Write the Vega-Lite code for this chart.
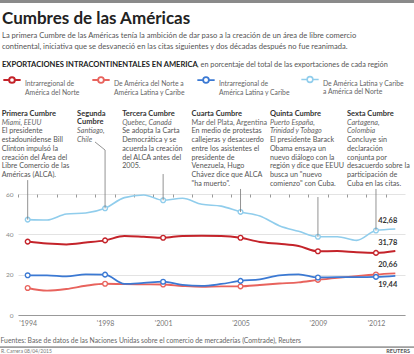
{
  "$schema": "https://vega.github.io/schema/vega-lite/v6.json",
  "width": 387,
  "height": 121,
  "autosize": {"type": "none"},
  "padding": {"left": 18, "top": 194, "right": 9, "bottom": 39},
  "background": "white",
  "config": {
    "view": {"stroke": null},
    "font": "Lato",
    "locale": {"number": {"decimal": ",", "thousands": ".", "grouping": [3], "currency": ["", " €"]}}
  },
  "title": {
    "text": "Cumbres de las Américas",
    "anchor": "start",
    "frame": "group",
    "dx": -16,
    "offset": -28,
    "font": "Lato",
    "fontSize": 17,
    "fontWeight": "bold",
    "color": "#222222"
  },
  "datasets": {
    "exportaciones": [
      {"anio": 1994, "an": 36.4, "nl": 13.4, "ll": 19.7, "ln": 47.3},
      {"anio": 1995, "an": 35.4, "nl": 12.1, "ll": 19.7, "ln": 47.1},
      {"anio": 1996, "an": 35.0, "nl": 12.9, "ll": 19.2, "ln": 50.1},
      {"anio": 1997, "an": 35.9, "nl": 14.5, "ll": 20.2, "ln": 50.6},
      {"anio": 1998, "an": 37.0, "nl": 15.5, "ll": 20.0, "ln": 52.9},
      {"anio": 1999, "an": 39.2, "nl": 15.3, "ll": 15.4, "ln": 58.2},
      {"anio": 2000, "an": 38.8, "nl": 15.2, "ll": 15.9, "ln": 59.5},
      {"anio": 2001, "an": 38.3, "nl": 15.1, "ll": 16.5, "ln": 56.9},
      {"anio": 2002, "an": 39.2, "nl": 14.4, "ll": 14.9, "ln": 57.9},
      {"anio": 2003, "an": 39.3, "nl": 14.0, "ll": 14.4, "ln": 54.9},
      {"anio": 2004, "an": 39.2, "nl": 14.2, "ll": 15.4, "ln": 54.0},
      {"anio": 2005, "an": 38.3, "nl": 14.2, "ll": 16.9, "ln": 51.1},
      {"anio": 2006, "an": 36.2, "nl": 14.9, "ll": 17.7, "ln": 49.1},
      {"anio": 2007, "an": 35.3, "nl": 15.6, "ll": 19.6, "ln": 44.3},
      {"anio": 2008, "an": 34.2, "nl": 16.2, "ll": 20.2, "ln": 41.5},
      {"anio": 2009, "an": 31.6, "nl": 17.4, "ll": 18.6, "ln": 38.8},
      {"anio": 2010, "an": 31.7, "nl": 18.4, "ll": 18.8, "ln": 38.8},
      {"anio": 2011, "an": 31.1, "nl": 19.3, "ll": 18.8, "ln": 37.0},
      {"anio": 2012, "an": 30.8, "nl": 20.1, "ll": 18.9, "ln": 41.9},
      {"anio": 2013, "an": 31.78, "nl": 20.66, "ll": 19.44, "ln": 42.68}
    ]
  },
  "layer": [
    {
      "data": {"values": [{"entradilla": ["La primera Cumbre de las Américas tenía la ambición de dar paso a la creación de un área de libre comercio", "continental, iniciativa que se desvaneció en las citas siguientes y dos décadas después no fue reanimada."], "seccion": "EXPORTACIONES INTRACONTINENTALES EN AMERICA", "detalle": ", en porcentaje del total de las exportaciones de cada región", "fuente": "R. Carrera 08/04/2015", "marca": "REUTERS"}]},
      "layer": [
        {"mark": {"type": "rule", "color": "#8a8a8a", "strokeWidth": 3}, "encoding": {"x": {"datum": 1992.55, "type": "quantitative", "axis": null}, "x2": {"datum": 2014.2}, "y": {"datum": 155.45, "type": "quantitative"}}},
        {"mark": {"type": "rule", "color": "#555555", "strokeWidth": 1}, "encoding": {"x": {"datum": 1992.55, "type": "quantitative", "axis": null}, "x2": {"datum": 2014.5}, "y": {"datum": -15.9, "type": "quantitative"}}},
        {"mark": {"type": "text", "align": "left", "baseline": "top", "dx": -16, "dy": -162, "font": "Lato", "fontSize": 7.6, "lineHeight": 11, "color": "#555555"}, "encoding": {"x": {"datum": 1993.5, "type": "quantitative", "axis": null}, "y": {"datum": 60, "type": "quantitative"}, "text": {"field": "entradilla"}}},
        {"mark": {"type": "text", "align": "left", "baseline": "middle", "dx": -16, "dy": -129, "font": "Lato", "fontSize": 7.6, "fontWeight": "bold", "color": "#222222"}, "encoding": {"x": {"datum": 1993.5, "type": "quantitative", "axis": null}, "y": {"datum": 60, "type": "quantitative"}, "text": {"field": "seccion"}}},
        {"mark": {"type": "text", "align": "left", "baseline": "middle", "dx": 179, "dy": -129, "font": "Lato", "fontSize": 7.3, "color": "#555555"}, "encoding": {"x": {"datum": 1993.5, "type": "quantitative", "axis": null}, "y": {"datum": 60, "type": "quantitative"}, "text": {"field": "detalle"}}},
        {"mark": {"type": "text", "align": "left", "baseline": "middle", "dx": -17, "dy": 36, "font": "Lato", "fontSize": 5, "color": "#777777"}, "encoding": {"x": {"datum": 1993.5, "type": "quantitative", "axis": null}, "y": {"datum": 0, "type": "quantitative"}, "text": {"field": "fuente"}}},
        {"mark": {"type": "text", "align": "right", "baseline": "middle", "dx": 5, "dy": 36, "font": "Lato", "fontSize": 5.5, "fontWeight": "bold", "color": "#555555"}, "encoding": {"x": {"datum": 2013.5, "type": "quantitative", "axis": null}, "y": {"datum": 0, "type": "quantitative"}, "text": {"field": "marca"}}}
      ]
    },
    {
      "data": {"name": "exportaciones"},
      "transform": [{"fold": ["an", "nl", "ll", "ln"], "as": ["serie", "valor"]}],
      "resolve": {"axis": {"x": "independent"}},
      "layer": [
        {
          "mark": {"type": "line", "interpolate": "monotone"},
          "encoding": {
            "x": {
              "field": "anio", "type": "quantitative",
              "scale": {"domain": [1993.5, 2013.5], "nice": false, "zero": false},
              "axis": {
                "values": [1994, 1998, 2001, 2005, 2009, 2012],
                "labelExpr": "\"'\" + datum.value",
                "labelFlush": false,
                "labelOverlap": false,
                "labelFont": "Lato",
                "labelFontSize": 7,
                "labelColor": "#777777",
                "labelPadding": 4,
                "ticks": false,
                "domainColor": "#999999",
                "grid": false,
                "title": "Fuentes: Base de datos de las Naciones Unidas sobre el comercio de mercaderías (Comtrade), Reuters",
                "titleFont": "Lato",
                "titleFontSize": 6.8,
                "titleFontWeight": "normal",
                "titleColor": "#666666",
                "titleAnchor": "start",
                "titleAlign": "left",
                "titleBaseline": "middle",
                "titleX": -18,
                "titleY": 25
              }
            },
            "y": {
              "field": "valor", "type": "quantitative",
              "scale": {"domain": [0, 60], "nice": false},
              "axis": {"values": [0, 10, 20, 30, 40, 50, 60], "grid": true, "gridColor": "#e3e3e3", "domain": false, "ticks": false, "labelFont": "Lato", "labelFontSize": 6.5, "labelColor": "#888888", "labelPadding": 5, "title": null}
            },
            "color": {
              "field": "serie", "type": "nominal",
              "scale": {"domain": ["an", "nl", "ll", "ln"], "range": ["#c4232a", "#e8635d", "#3b79d3", "#90cdec"]},
              "legend": {
                "orient": "none", "legendX": -16, "legendY": -120,
                "direction": "horizontal", "columns": 4, "title": null, "gridAlign": "none",
                "symbolType": "M-1,-0.46L-0.33,-0.46M0.33,-0.46L1,-0.46M0.33,-0.46A0.33,0.33,0,1,1,-0.33,-0.46A0.33,0.33,0,1,1,0.33,-0.46",
                "symbolSize": 300, "symbolStrokeWidth": 1.6, "symbolFillColor": "white",
                "labelFont": "Lato", "labelFontSize": 6.8, "labelColor": "#666666", "labelOffset": 3, "labelLimit": 200,
                "columnPadding": 8,
                "labelExpr": "datum.label == 'an' ? ['Intrarregional de', 'América del Norte'] : datum.label == 'nl' ? ['De América del Norte a', 'América Latina y Caribe'] : datum.label == 'll' ? ['Intrarregional de', 'América Latina y Caribe'] : ['De América Latina y Caribe', 'a América del Norte']"
              }
            },
            "strokeWidth": {"field": "serie", "type": "nominal", "scale": {"domain": ["an", "nl", "ll", "ln"], "range": [2, 1.6, 1.6, 1.3]}, "legend": null}
          }
        },
        {
          "transform": [{"filter": {"field": "anio", "oneOf": [1994, 1998, 2001, 2005, 2009, 2012]}}],
          "mark": {"type": "point", "filled": false, "fill": "white", "size": 22, "strokeWidth": 1.4, "opacity": 1},
          "encoding": {
            "x": {
              "field": "anio", "type": "quantitative",
              "axis": {
                "values": [1994, 1995, 1996, 1997, 1998, 1999, 2000, 2001, 2002, 2003, 2004, 2005, 2006, 2007, 2008, 2009, 2010, 2011, 2012, 2013, 2014],
                "tickOffset": -9.675,
                "labels": false,
                "domain": false,
                "grid": false,
                "ticks": true,
                "tickSize": -3,
                "tickColor": "#999999",
                "title": null
              }
            },
            "y": {"field": "valor", "type": "quantitative"},
            "color": {"field": "serie", "type": "nominal"}
          }
        },
        {
          "transform": [{"filter": "datum.anio == 2013 && datum.serie != 'll'"}],
          "mark": {"type": "text", "align": "right", "baseline": "middle", "dx": 2, "dy": -8, "font": "Lato", "fontSize": 7.5, "fontWeight": "bold", "color": "#333333"},
          "encoding": {
            "x": {"field": "anio", "type": "quantitative", "axis": null},
            "y": {"field": "valor", "type": "quantitative"},
            "text": {"field": "valor", "type": "quantitative", "format": ".2f"}
          }
        },
        {
          "transform": [{"filter": "datum.anio == 2013 && datum.serie == 'll'"}],
          "mark": {"type": "text", "align": "right", "baseline": "middle", "dx": 2, "dy": 9, "font": "Lato", "fontSize": 7.5, "fontWeight": "bold", "color": "#333333"},
          "encoding": {
            "x": {"field": "anio", "type": "quantitative", "axis": null},
            "y": {"field": "valor", "type": "quantitative"},
            "text": {"field": "valor", "type": "quantitative", "format": ".2f"}
          }
        }
      ]
    },
    {
      "data": {"values": [{"anio": 1994, "valor": 47.3, "cumbre": ["Primera Cumbre"], "lugar": ["Miami, EEUU"], "texto": ["El presidente", "estadounidense Bill", "Clinton impulsó la", "creación del Área del", "Libre Comercio de las", "Américas (ALCA)."]}]},
      "encoding": {"x": {"field": "anio", "type": "quantitative", "axis": null}},
      "layer": [
        {"mark": {"type": "rule", "color": "#777777", "strokeWidth": 0.8}, "encoding": {"y": {"field": "valor", "type": "quantitative"}, "y2": {"datum": 66.9}}},
        {"mark": {"type": "text", "align": "left", "baseline": "top", "dx": -26, "dy": -84.3, "fontSize": 7.5, "fontWeight": "bold", "lineHeight": 8.8, "color": "#333333"}, "encoding": {"y": {"datum": 60, "type": "quantitative"}, "text": {"field": "cumbre"}}},
        {"mark": {"type": "text", "align": "left", "baseline": "top", "dx": -26, "dy": -75.5, "fontSize": 7.2, "fontStyle": "italic", "lineHeight": 8.8, "color": "#666666"}, "encoding": {"y": {"datum": 60, "type": "quantitative"}, "text": {"field": "lugar"}}},
        {"mark": {"type": "text", "align": "left", "baseline": "top", "dx": -26, "dy": -66.7, "fontSize": 7.2, "lineHeight": 8.8, "color": "#555555"}, "encoding": {"y": {"datum": 60, "type": "quantitative"}, "text": {"field": "texto"}}}
      ]
    },
    {
      "data": {"values": [{"anio": 1998, "valor": 52.9, "cumbre": ["Segunda", "Cumbre"], "lugar": ["Santiago,", "Chile"]}]},
      "encoding": {"x": {"field": "anio", "type": "quantitative", "axis": null}},
      "layer": [
        {"mark": {"type": "rule", "color": "#777777", "strokeWidth": 0.8}, "encoding": {"y": {"field": "valor", "type": "quantitative"}, "y2": {"datum": 81.8}}},
        {"mark": {"type": "rule", "color": "#777777", "strokeWidth": 0.8}, "encoding": {"y": {"datum": 81.8, "type": "quantitative"}, "x2": {"datum": 1997.48}, "y2": {"datum": 85.8}}},
        {"mark": {"type": "text", "align": "left", "baseline": "top", "dx": -28, "dy": -84.3, "fontSize": 7.5, "fontWeight": "bold", "lineHeight": 8.8, "color": "#333333"}, "encoding": {"y": {"datum": 60, "type": "quantitative"}, "text": {"field": "cumbre"}}},
        {"mark": {"type": "text", "align": "left", "baseline": "top", "dx": -28, "dy": -66.7, "fontSize": 7.2, "fontStyle": "italic", "lineHeight": 8.8, "color": "#666666"}, "encoding": {"y": {"datum": 60, "type": "quantitative"}, "text": {"field": "lugar"}}}
      ]
    },
    {
      "data": {"values": [{"anio": 2001, "valor": 56.9, "cumbre": ["Tercera Cumbre"], "lugar": ["Quebec, Canadá"], "texto": ["Se adopta la Carta", "Democrática y se", "acuerda la creación", "del ALCA antes del", "2005."]}]},
      "encoding": {"x": {"field": "anio", "type": "quantitative", "axis": null}},
      "layer": [
        {"mark": {"type": "rule", "color": "#777777", "strokeWidth": 0.8}, "encoding": {"y": {"field": "valor", "type": "quantitative"}, "y2": {"datum": 69.9}}},
        {"mark": {"type": "text", "align": "left", "baseline": "top", "dx": -41, "dy": -84.3, "fontSize": 7.5, "fontWeight": "bold", "lineHeight": 8.8, "color": "#333333"}, "encoding": {"y": {"datum": 60, "type": "quantitative"}, "text": {"field": "cumbre"}}},
        {"mark": {"type": "text", "align": "left", "baseline": "top", "dx": -41, "dy": -75.5, "fontSize": 7.2, "fontStyle": "italic", "lineHeight": 8.8, "color": "#666666"}, "encoding": {"y": {"datum": 60, "type": "quantitative"}, "text": {"field": "lugar"}}},
        {"mark": {"type": "text", "align": "left", "baseline": "top", "dx": -41, "dy": -66.7, "fontSize": 7.2, "lineHeight": 8.8, "color": "#555555"}, "encoding": {"y": {"datum": 60, "type": "quantitative"}, "text": {"field": "texto"}}}
      ]
    },
    {
      "data": {"values": [{"anio": 2005, "valor": 51.1, "cumbre": ["Cuarta Cumbre"], "lugar": ["Mar del Plata, Argentina"], "texto": ["En medio de protestas", "callejeras y desacuerdo", "entre los asistentes el", "presidente de", "Venezuela, Hugo", "Chávez dice que ALCA", "\"ha muerto\"."]}]},
      "encoding": {"x": {"field": "anio", "type": "quantitative", "axis": null}},
      "layer": [
        {"mark": {"type": "rule", "color": "#777777", "strokeWidth": 0.8}, "encoding": {"y": {"field": "valor", "type": "quantitative"}, "y2": {"datum": 62.5}}},
        {"mark": {"type": "text", "align": "left", "baseline": "top", "dx": -49, "dy": -84.3, "fontSize": 7.5, "fontWeight": "bold", "lineHeight": 8.8, "color": "#333333"}, "encoding": {"y": {"datum": 60, "type": "quantitative"}, "text": {"field": "cumbre"}}},
        {"mark": {"type": "text", "align": "left", "baseline": "top", "dx": -49, "dy": -75.5, "fontSize": 7.2, "lineHeight": 8.8, "color": "#666666"}, "encoding": {"y": {"datum": 60, "type": "quantitative"}, "text": {"field": "lugar"}}},
        {"mark": {"type": "text", "align": "left", "baseline": "top", "dx": -49, "dy": -66.7, "fontSize": 7.2, "lineHeight": 8.8, "color": "#555555"}, "encoding": {"y": {"datum": 60, "type": "quantitative"}, "text": {"field": "texto"}}}
      ]
    },
    {
      "data": {"values": [{"anio": 2009, "valor": 38.8, "cumbre": ["Quinta Cumbre"], "lugar": ["Puerto España,", "Trinidad y Tobago"], "texto": ["El presidente Barack", "Obama ensaya un", "nuevo diálogo con la", "región y dice que EEUU", "busca un \"nuevo", "comienzo\" con Cuba."]}]},
      "encoding": {"x": {"field": "anio", "type": "quantitative", "axis": null}},
      "layer": [
        {"mark": {"type": "rule", "color": "#777777", "strokeWidth": 0.8}, "encoding": {"y": {"field": "valor", "type": "quantitative"}, "y2": {"datum": 58.5}}},
        {"mark": {"type": "text", "align": "left", "baseline": "top", "dx": -48, "dy": -84.3, "fontSize": 7.5, "fontWeight": "bold", "lineHeight": 8.8, "color": "#333333"}, "encoding": {"y": {"datum": 60, "type": "quantitative"}, "text": {"field": "cumbre"}}},
        {"mark": {"type": "text", "align": "left", "baseline": "top", "dx": -48, "dy": -75.5, "fontSize": 7.2, "fontStyle": "italic", "lineHeight": 8.8, "color": "#666666"}, "encoding": {"y": {"datum": 60, "type": "quantitative"}, "text": {"field": "lugar"}}},
        {"mark": {"type": "text", "align": "left", "baseline": "top", "dx": -48, "dy": -57.9, "fontSize": 7.2, "lineHeight": 8.8, "color": "#555555"}, "encoding": {"y": {"datum": 60, "type": "quantitative"}, "text": {"field": "texto"}}}
      ]
    },
    {
      "data": {"values": [{"anio": 2012, "valor": 41.9, "cumbre": ["Sexta Cumbre"], "lugar": ["Cartagena,", "Colombia"], "texto": ["Concluye sin", "declaración", "conjunta por", "desacuerdo sobre la", "participación de", "Cuba en las citas."]}]},
      "encoding": {"x": {"field": "anio", "type": "quantitative", "axis": null}},
      "layer": [
        {"mark": {"type": "rule", "color": "#777777", "strokeWidth": 0.8}, "encoding": {"y": {"field": "valor", "type": "quantitative"}, "y2": {"datum": 62.5}}},
        {"mark": {"type": "text", "align": "left", "baseline": "top", "dx": -29, "dy": -84.3, "fontSize": 7.5, "fontWeight": "bold", "lineHeight": 8.8, "color": "#333333"}, "encoding": {"y": {"datum": 60, "type": "quantitative"}, "text": {"field": "cumbre"}}},
        {"mark": {"type": "text", "align": "left", "baseline": "top", "dx": -29, "dy": -75.5, "fontSize": 7.2, "fontStyle": "italic", "lineHeight": 8.8, "color": "#666666"}, "encoding": {"y": {"datum": 60, "type": "quantitative"}, "text": {"field": "lugar"}}},
        {"mark": {"type": "text", "align": "left", "baseline": "top", "dx": -29, "dy": -57.9, "fontSize": 7.2, "lineHeight": 8.8, "color": "#555555"}, "encoding": {"y": {"datum": 60, "type": "quantitative"}, "text": {"field": "texto"}}}
      ]
    }
  ]
}
